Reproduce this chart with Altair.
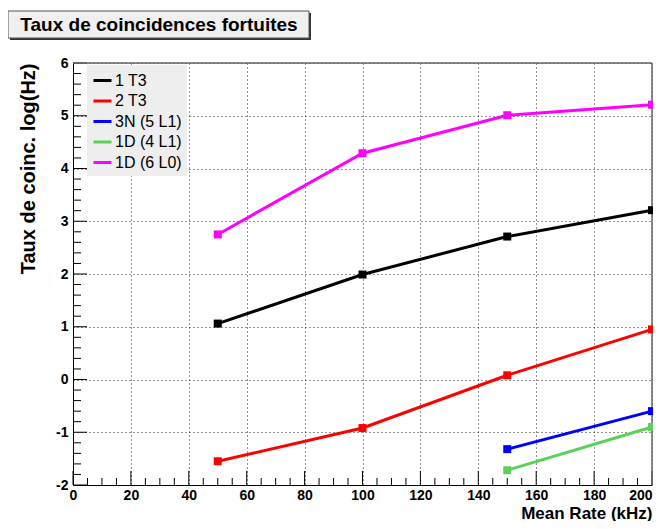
import altair as alt
import pandas as pd

# ---- data ----
series = ["1 T3", "2 T3", "3N (5 L1)", "1D (4 L1)", "1D (6 L0)"]
colors = ["#000000", "#ff0000", "#0000ff", "#5ad25a", "#ff00ff"]

x_1T3 = [50, 100, 150, 200]
y_1T3 = [1.06, 1.99, 2.71, 3.21]
x_2T3 = [50, 100, 150, 200]
y_2T3 = [-1.55, -0.92, 0.08, 0.95]
x_3N = [150, 200]
y_3N = [-1.32, -0.60]
x_1D4 = [150, 200]
y_1D4 = [-1.72, -0.90]
x_1D6 = [50, 100, 150, 200]
y_1D6 = [2.75, 4.29, 5.01, 5.21]

x_major = [0, 20, 40, 60, 80, 100, 120, 140, 160, 180, 200]
x_minor = [v for v in range(0, 201, 5) if v % 20]
y_major = [-2, -1, 0, 1, 2, 3, 4, 5, 6]
y_minor = [round(-2 + 0.2 * i, 1) for i in range(41) if i % 5]

title_text = "Taux de coincidences fortuites"

rows = []
for name, xs, ys in zip(series, [x_1T3, x_2T3, x_3N, x_1D4, x_1D6],
                        [y_1T3, y_2T3, y_3N, y_1D4, y_1D6]):
    for a, b in zip(xs, ys):
        rows.append({"x": a, "y": b, "s": name})
df = pd.DataFrame(rows)

W, H = 579, 422
FONT = "Liberation Sans"

xscale = alt.Scale(domain=[0, 200], nice=False, zero=False)
yscale = alt.Scale(domain=[-2, 6], nice=False, zero=False)

common_axis = dict(
    titleFont=FONT, titleFontWeight="bold", titleColor="black",
    titleAnchor="end",
    labelFont=FONT, labelFontSize=14, labelFontWeight="bold", labelColor="black",
    labelFlush=False, labelOverlap=False, ticks=False,
    domainColor="black", domainWidth=1,
    grid=True, gridColor="black", gridDash=[1, 3], gridWidth=1, gridOpacity=0.85,
    labelExpr="'' + datum.value",
)
xaxis = alt.Axis(values=x_major, title="Mean Rate (kHz)", titleFontSize=17,
                 titleBaseline="alphabetic", titleY=33,
                 labelAlign={"expr": "datum.value == 200 ? 'right' : 'center'"},
                 labelPadding=3, **common_axis)
yaxis = alt.Axis(values=y_major, title="Taux de coinc. log(Hz)", titleFontSize=20,
                 titlePadding=17, labelPadding=5, **common_axis)

X = alt.X("x:Q", scale=xscale, axis=xaxis)
Y = alt.Y("y:Q", scale=yscale, axis=yaxis)

legend = alt.Legend(
    title=None, orient="none", legendX=14, legendY=2,
    fillColor="#eeeeee", padding=5,
    symbolType="stroke", symbolStrokeWidth=3, symbolSize=324,
    labelFont=FONT, labelFontSize=16, labelColor="black", labelOffset=2,
    rowPadding=1.5,
)
C = alt.Color("s:N", scale=alt.Scale(domain=series, range=colors),
              sort=series, legend=legend)

lines = alt.Chart(df).mark_line(strokeWidth=3).encode(x=X, y=Y, color=C)
points = alt.Chart(df).mark_point(shape="square", filled=True, size=64,
                                  opacity=1).encode(x=X, y=Y, color=C)

xt_major = alt.Chart(pd.DataFrame({"x": x_major})).mark_rule(
    color="black", strokeWidth=1).encode(x=X, y=alt.value(H), y2=alt.value(H - 14))
xt_minor = alt.Chart(pd.DataFrame({"x": x_minor})).mark_rule(
    color="black", strokeWidth=1).encode(x=X, y=alt.value(H), y2=alt.value(H - 7))
yt_major = alt.Chart(pd.DataFrame({"y": y_major})).mark_rule(
    color="black", strokeWidth=1).encode(y=Y, x=alt.value(0), x2=alt.value(14))
yt_minor = alt.Chart(pd.DataFrame({"y": y_minor})).mark_rule(
    color="black", strokeWidth=1).encode(y=Y, x=alt.value(0), x2=alt.value(8))

one = pd.DataFrame({"t": [title_text]})
frame_r = alt.Chart(one).mark_rule(color="#666666", strokeWidth=1.5).encode(
    x=alt.value(W), y=alt.value(0), y2=alt.value(H))
frame_t = alt.Chart(one).mark_rule(color="#666666", strokeWidth=1.5).encode(
    x=alt.value(0), x2=alt.value(W), y=alt.value(0))

shadow = alt.Chart(one).mark_rect(color="#333333").encode(
    x=alt.value(-63), x2=alt.value(238), y=alt.value(-50), y2=alt.value(-23))
tbox = alt.Chart(one).mark_rect(fill="#f0f0f0", stroke="#555555",
                                strokeWidth=1).encode(
    x=alt.value(-65), x2=alt.value(236), y=alt.value(-52), y2=alt.value(-25))
ttext = alt.Chart(one).mark_text(font=FONT, fontSize=19, fontWeight="bold",
                                 color="black", align="center",
                                 baseline="middle").encode(
    x=alt.value(86), y=alt.value(-38), text="t:N")

chart = alt.layer(
    xt_minor, xt_major, yt_minor, yt_major, frame_r, frame_t,
    lines, points, shadow, tbox, ttext,
).properties(
    width=W, height=H,
    padding={"left": 65, "top": 55, "right": 1, "bottom": 36},
    autosize=alt.AutoSizeParams(type="none"),
).configure_view(stroke=None)

chart.save("out.html", embed_options={"renderer": "svg", "actions": False})
